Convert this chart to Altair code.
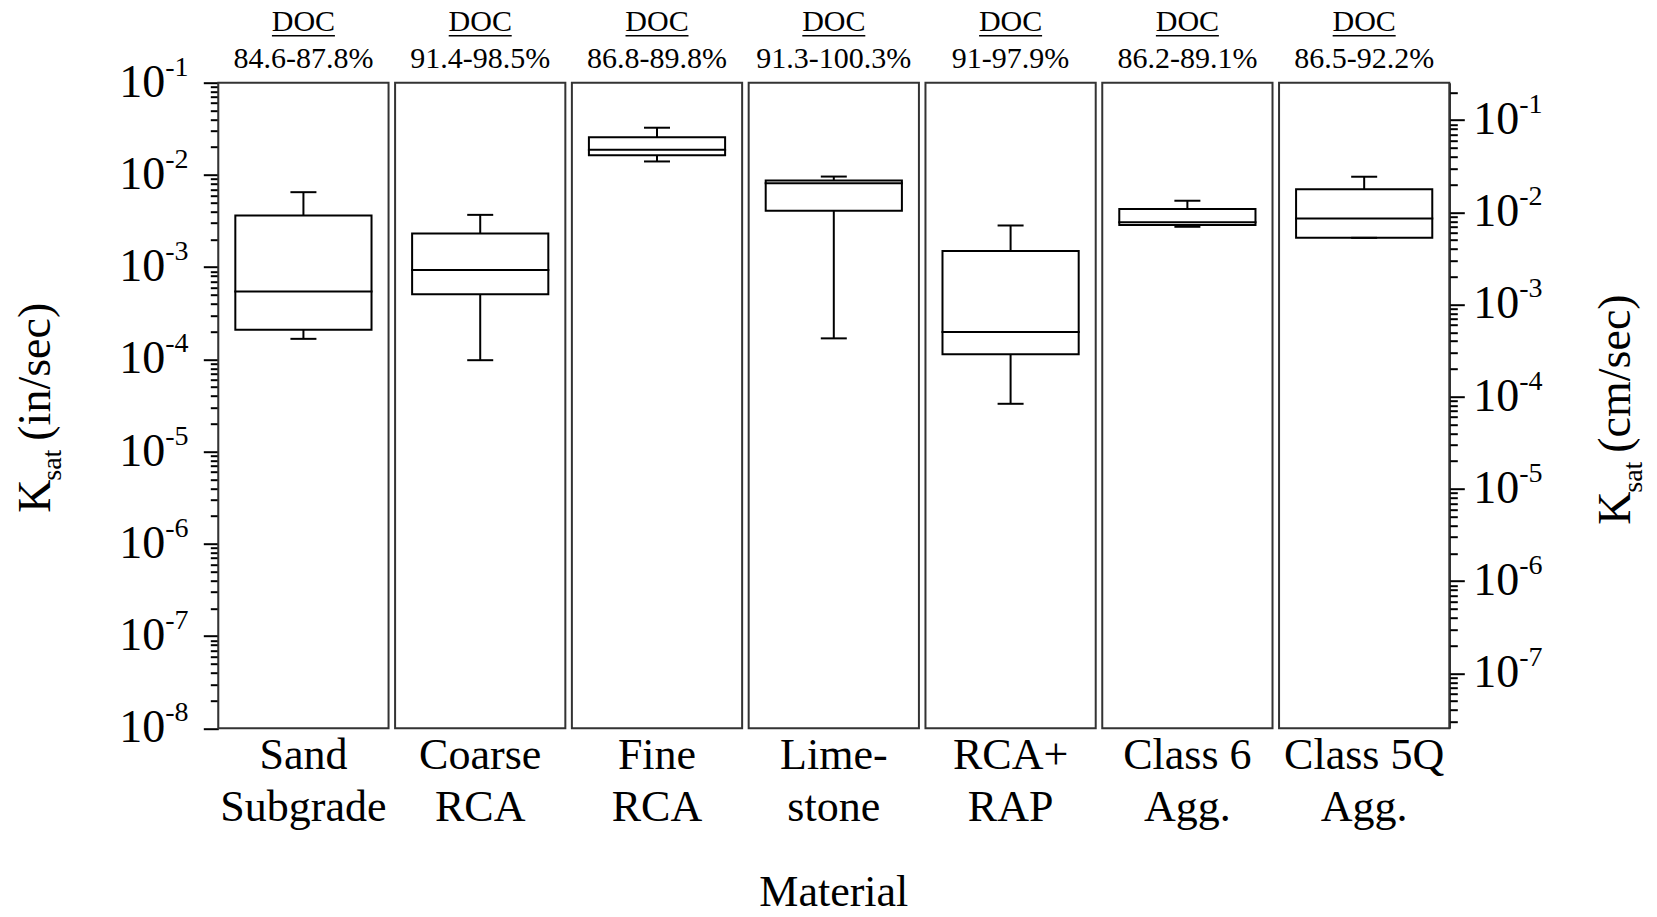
import altair as alt
import pandas as pd

# ---------------- data ----------------
materials = ["Sand Subgrade", "Coarse RCA", "Fine RCA", "Limestone",
             "RCA+RAP", "Class 6 Agg.", "Class 5Q Agg."]
material_lines = ["Sand\nSubgrade", "Coarse\nRCA", "Fine\nRCA", "Lime-\nstone",
                  "RCA+\nRAP", "Class 6\nAgg.", "Class 5Q\nAgg."]
doc_ranges = ["84.6-87.8%", "91.4-98.5%", "86.8-89.8%", "91.3-100.3%",
              "91-97.9%", "86.2-89.1%", "86.5-92.2%"]

# Ksat (in/sec) box-plot statistics
whisker_low = [1.67e-4, 9.8e-5, 1.40e-2, 1.69e-4, 3.3e-5, 2.74e-3, 2.08e-3]
q1 = [2.09e-4, 5.1e-4, 1.63e-2, 4.1e-3, 1.14e-4, 2.86e-3, 2.08e-3]
median = [5.45e-4, 9.3e-4, 1.88e-2, 8.1e-3, 1.98e-4, 3.06e-3, 3.38e-3]
q3 = [3.63e-3, 2.32e-3, 2.56e-2, 8.7e-3, 1.50e-3, 4.27e-3, 7.0e-3]
whisker_high = [6.5e-3, 3.69e-3, 3.25e-2, 9.6e-3, 2.83e-3, 5.25e-3, 9.56e-3]

left_exponents = [-1, -2, -3, -4, -5, -6, -7, -8]
right_exponents = [-1, -2, -3, -4, -5, -6, -7]
CM_PER_IN = 2.54

# ---------------- layout ----------------
L, T = 218.3, 82.7
W, H = 1231, 645.6
PAD_IN = 0.037
step = W / (len(materials) - PAD_IN)
bw = step * (1 - PAD_IN)
FONT = "Liberation Serif"

df = pd.DataFrame({
    "material": materials, "label": material_lines, "doc": doc_ranges,
    "wlo": whisker_low, "q1": q1, "med": median, "q3": q3, "whi": whisker_high,
})
left_df = pd.DataFrame({"val": [10.0 ** e for e in left_exponents],
                        "sup": [str(e) for e in left_exponents]})
right_df = pd.DataFrame({"val": [10.0 ** e / CM_PER_IN for e in right_exponents],
                         "sup": [str(e) for e in right_exponents]})

left_ticks = [m * 10.0 ** k for k in range(-8, -1) for m in range(1, 10)] + [1e-1]
right_ticks = [m * 10.0 ** k / CM_PER_IN for k in range(-8, 0) for m in range(1, 10)
               if 2.54e-8 <= m * 10.0 ** k <= 0.254]

yscale = alt.Scale(type="log", domain=[1e-8, 1e-1], nice=False)
xscale = alt.Scale(paddingInner=PAD_IN, paddingOuter=0)
X = alt.X("material:N", sort=materials, scale=xscale, axis=None)


def Y(field, axis=None):
    return alt.Y(field, type="quantitative", scale=yscale, axis=axis, title=None)


major_left = "abs(log(datum.value)/LN10 - round(log(datum.value)/LN10)) < 0.000001"
major_right = ("abs(log(datum.value*2.54)/LN10 - round(log(datum.value*2.54)/LN10))"
               " < 0.000001")

left_axis = alt.Axis(orient="left", values=left_ticks, labels=False, grid=False,
                     domainColor="black", domainWidth=2, tickColor="black", tickWidth=2,
                     tickSize={"condition": {"test": major_left, "value": 15}, "value": 8},
                     title=None)
right_axis = alt.Axis(orient="right", values=right_ticks, labels=False, grid=False,
                      domainColor="black", domainWidth=2, tickColor="black", tickWidth=2,
                      tickSize={"condition": {"test": major_right, "value": 15}, "value": 8},
                      title=None)

base = alt.Chart(df)

frames = base.mark_rect(fill="white", stroke="#333333", strokeWidth=2).encode(
    x=X, y=alt.value(0), y2=alt.value(H))

wh_low = base.mark_rule(color="black", strokeWidth=2).encode(
    x=X, y=Y("wlo"), y2="q1")
wh_high = base.mark_rule(color="black", strokeWidth=2).encode(
    x=X, y=Y("q3"), y2="whi")
cap_low = base.mark_tick(size=26, thickness=2, color="black", opacity=1).encode(
    x=X, y=Y("wlo"))
cap_high = base.mark_tick(size=26, thickness=2, color="black", opacity=1).encode(
    x=X, y=Y("whi"))
box = base.mark_bar(width=alt.RelativeBandSize(0.8), fill="white", stroke="black",
                    strokeWidth=2, opacity=1).encode(x=X, y=Y("q1"), y2="q3")
med = base.mark_tick(size=bw * 0.8 + 2, thickness=2, color="black", opacity=1).encode(
    x=X, y=Y("med"))

doc_head = base.mark_text(font=FONT, fontSize=30, baseline="alphabetic",
                          align="center", color="black").encode(
    x=X, y=alt.value(-52), text=alt.value("DOC"))
doc_line = base.mark_tick(orient="horizontal", size=63, thickness=1.5,
                          color="black", opacity=1).encode(x=X, y=alt.value(-47))
doc_rng = base.mark_text(font=FONT, fontSize=30, baseline="alphabetic",
                         align="center", color="black").encode(
    x=X, y=alt.value(-15), text="doc:N")

cat_labels = base.mark_text(font=FONT, fontSize=44, baseline="top", align="center",
                            lineBreak="\n", lineHeight=52, color="black").encode(
    x=X, y=alt.value(H + 6), text="label:N")

lchart = alt.Chart(left_df)
left_ten = lchart.mark_text(font=FONT, fontSize=46, align="right", baseline="middle",
                            color="black", text="10").encode(
    x=alt.value(-53), y=Y("val", left_axis))
left_sup = lchart.mark_text(font=FONT, fontSize=28, align="left", baseline="middle",
                            dy=-15, color="black").encode(
    x=alt.value(-53), y=Y("val"), text="sup:N")

rchart = alt.Chart(right_df)
right_ten = rchart.mark_text(font=FONT, fontSize=46, align="left", baseline="middle",
                             color="black", text="10").encode(
    x=alt.value(W + 24), y=Y("val", right_axis))
right_sup = rchart.mark_text(font=FONT, fontSize=28, align="left", baseline="middle",
                             dy=-15, color="black").encode(
    x=alt.value(W + 24 + 46), y=Y("val"), text="sup:N")

titles_df = pd.DataFrame({"k": [0]})
tchart = alt.Chart(titles_df)


def rot_text(txt, x, y, size):
    return tchart.mark_text(font=FONT, fontSize=size, angle=270, align="left",
                            baseline="alphabetic", color="black", text=txt).encode(
        x=alt.value(x), y=alt.value(y))


left_title = [rot_text("K", -168, 430, 46), rot_text("sat", -157, 398, 28),
              rot_text("(in/sec)", -168, 358, 46)]
right_title = [rot_text("K", W + 181, 442, 46), rot_text("sat", W + 193, 410, 28),
               rot_text("(cm/sec)", W + 181, 370, 46)]
x_title = tchart.mark_text(font=FONT, fontSize=44, align="center", baseline="alphabetic",
                           color="black", text="Material").encode(
    x=alt.value(W / 2), y=alt.value(H + 178))

chart = alt.layer(
    frames, wh_low, wh_high, box, med, cap_low, cap_high,
    doc_head, doc_line, doc_rng, cat_labels,
    left_ten, left_sup, right_ten, right_sup,
    *left_title, *right_title, x_title,
).resolve_axis(y="independent").properties(
    width=W, height=H, autosize="none",
    padding={"left": L, "top": T, "right": 1657 - L - W, "bottom": 917 - T - H},
    background="white",
).configure_view(stroke=None)

chart.save("out.html", embed_options={"renderer": "svg", "actions": False})
